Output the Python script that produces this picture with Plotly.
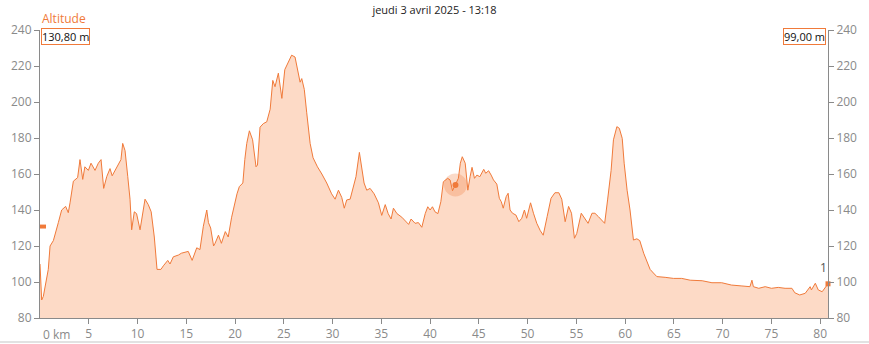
import plotly.graph_objects as go

# ---- data ----
distance_km = [
    0.0, 0.17, 0.34, 0.68, 0.85, 1.03, 1.37, 1.88, 2.22, 2.63, 2.9, 3.08, 3.42, 3.86, 4.1, 4.38, 4.6, 4.96,
    5.23, 5.64, 5.98, 6.26, 6.53, 6.84, 7.18, 7.4, 8.03, 8.3, 8.48, 8.72, 9.0, 9.23, 9.4, 9.67, 9.9, 10.26,
    10.77, 11.1, 11.4, 11.72, 12.0, 12.4, 12.65, 13.1, 13.33, 13.67, 14.2, 14.5, 15.2, 15.6, 16.07, 16.4,
    16.75, 17.1, 17.27, 17.5, 17.8, 17.95, 18.3, 18.6, 19.0, 19.3, 19.65, 20.0, 20.2, 20.44, 20.8, 21.0,
    21.2, 21.47, 21.8, 22.15, 22.3, 22.56, 22.9, 23.25, 23.6, 23.87, 24.1, 24.44, 24.8, 25.1, 25.47, 25.8,
    26.15, 26.4, 26.67, 26.84, 27.1, 27.35, 27.7, 28.0, 28.45, 28.9, 29.4, 29.9, 30.26, 30.6, 30.94, 31.2,
    31.45, 31.8, 32.13, 32.4, 32.75, 33.0, 33.23, 33.5, 33.85, 34.26, 34.7, 35.04, 35.4, 35.7, 36.0, 36.24,
    36.6, 37.1, 37.6, 37.8, 38.05, 38.46, 38.8, 39.15, 39.5, 39.76, 40.0, 40.24, 40.5, 40.8, 41.1, 41.36,
    41.8, 42.05, 42.3, 42.6, 42.9, 43.1, 43.3, 43.6, 43.87, 44.1, 44.3, 44.55, 44.8, 45.1, 45.5, 45.7,
    46.0, 46.26, 46.5, 46.84, 47.1, 47.3, 47.5, 47.8, 48.0, 48.2, 48.45, 48.8, 49.1, 49.4, 49.67, 49.9,
    50.3, 50.6, 50.94, 51.3, 51.6, 52.0, 52.4, 52.8, 53.2, 53.5, 53.85, 54.2, 54.5, 54.8, 55.04, 55.5,
    55.8, 56.2, 56.6, 56.9, 57.26, 57.6, 57.9, 58.2, 58.56, 58.8, 59.15, 59.4, 59.6, 59.7, 59.9, 60.2,
    60.5, 60.85, 61.2, 61.5, 61.9, 62.2, 62.56, 62.9, 63.25, 64.1, 64.95, 65.8, 66.67, 67.9, 68.9, 69.9,
    70.9, 71.97, 72.8, 73.0, 73.15, 73.7, 74.36, 75.0, 75.7, 76.4, 77.1, 77.4, 77.9, 78.46, 78.97, 79.1,
    79.5, 79.8, 80.2, 80.8,
]
altitude_m = [
    110, 90, 92, 103, 107, 120, 123, 133, 140, 142, 138.5, 144, 156, 158, 168, 157, 164, 162,
    166, 162, 166, 168, 152, 158.5, 163, 159, 165, 168, 177, 173, 158.5, 146, 129, 139, 138, 129,
    146, 143, 139, 125, 107, 107, 109, 112, 110, 114, 115, 116, 117, 112, 119, 118,
    131, 140, 133, 130, 120, 121.5, 126, 121.5, 128, 125, 136, 145.6, 149, 153, 155, 168,
    177, 184, 179, 164, 165, 186, 188, 189, 196, 212, 208.5, 216, 202, 218, 222, 226,
    225, 218, 211, 213, 207, 194, 177, 169, 164, 160, 155, 149, 146, 151, 147, 141,
    145.6, 146, 153, 158.5, 172, 164, 155, 151, 152, 149, 144, 137, 143, 138, 135, 141,
    138, 136, 133.5, 132, 135, 132.6, 133, 130.4, 138, 141.8, 140, 141.8, 139, 138, 144.6, 155.7,
    157.6, 156.7, 150.7, 153.9, 157.6, 166, 169.6, 166, 151, 158.5, 163.7, 157.6, 159.4, 158.5, 162.6, 160.4,
    161.8, 159.4, 156.7, 154.4, 146.5, 144.6, 141, 147.4, 149.3, 140, 138.2, 137.2, 133.5, 135.4, 140, 135.4,
    144, 138.2, 132.6, 128.5, 126, 136.3, 146.5, 149.6, 149.6, 146, 133.5, 142, 138.2, 124.3, 127, 138.2,
    136, 132.6, 138.2, 138.2, 136.3, 134.4, 132.6, 145.6, 162, 179, 186.3, 185.4, 180.7, 179.8, 166, 151,
    140, 123.3, 124, 123, 116, 112, 107, 105, 103, 102.6, 102, 102, 101, 100.7, 99.6, 99.6,
    98.3, 97.8, 97.4, 101, 97.4, 96.5, 97.4, 96.5, 97, 96.5, 96.5, 94, 92.8, 93.7, 97.4, 95.6,
    99.3, 95.6, 94.6, 99,
]
x_tick_values = [5, 10, 15, 20, 25, 30, 35, 40, 45, 50, 55, 60, 65, 70, 75, 80]
y_tick_values = [80, 100, 120, 140, 160, 180, 200, 220, 240]
title_text = "jeudi 3 avril 2025 - 13:18"
series_name = "Altitude"
cursor_km = 42.6
cursor_alt = 153.9
left_value = 130.8
left_label = "130,80 m"
right_label = "99,00 m"
end_label = "1"

ORANGE = "#F07A3A"
FILL = "rgba(253,218,198,1)"
GRAY = "#8a8a8a"
FONT = "Open Sans"

fig = go.Figure()
fig.add_trace(go.Scatter(
    x=distance_km, y=altitude_m, mode="lines", fill="tozeroy",
    fillcolor=FILL, line=dict(color=ORANGE, width=1), hoverinfo="skip", showlegend=False,
))
# dummy trace for the right axis
fig.add_trace(go.Scatter(x=[distance_km[0]], y=[altitude_m[0]], yaxis="y2", mode="markers",
                         marker=dict(opacity=0), showlegend=False, hoverinfo="skip"))
# cursor highlight
fig.add_trace(go.Scatter(x=[cursor_km], y=[cursor_alt], mode="markers",
                         marker=dict(size=23, color="rgba(240,122,58,0.28)"), showlegend=False))
fig.add_trace(go.Scatter(x=[cursor_km], y=[cursor_alt], mode="markers",
                         marker=dict(size=6, color=ORANGE), showlegend=False))
# end point marker
fig.add_trace(go.Scatter(x=[distance_km[-1]], y=[altitude_m[-1]], mode="markers",
                         marker=dict(size=5, color=ORANGE, symbol="square"), showlegend=False, cliponaxis=False))

axis_common = dict(
    range=[80, 240], tickvals=y_tick_values, showgrid=False, zeroline=False, automargin=False,
    showline=True, linecolor=GRAY, linewidth=1, ticks="outside", ticklen=5, tickcolor=GRAY,
    tickfont=dict(family=FONT, size=12, color=GRAY), fixedrange=True,
)

fig.update_layout(
    width=869, height=344,
    margin=dict(l=40, r=41, t=30, b=26, autoexpand=False),
    paper_bgcolor="white", plot_bgcolor="white",
    font=dict(family=FONT, size=12, color=GRAY),
    xaxis=dict(range=[0, distance_km[-1]], tickvals=x_tick_values, showgrid=False, zeroline=False,
               automargin=False,
               showline=True, linecolor=GRAY, linewidth=1, ticks="outside", ticklen=5, tickcolor=GRAY,
               tickfont=dict(family=FONT, size=12, color=GRAY)),
    yaxis=dict(side="left", **axis_common),
    yaxis2=dict(side="right", overlaying="y", **axis_common),
    title=dict(text=title_text, x=0.5, xanchor="center", y=1 - 10.5 / 344, yanchor="middle",
               font=dict(family=FONT, size=11, color="#222222")),
    shapes=[
        dict(type="rect", xref="paper", yref="y", x0=0, x1=6 / 788, y0=left_value - 1.1, y1=left_value + 1.1,
             fillcolor=ORANGE, line=dict(width=0)),
        dict(type="line", xref="paper", yref="paper", x0=-40 / 788, x1=1 + 41 / 788,
             y0=-24 / 288, y1=-24 / 288, line=dict(color="#e2e2e2", width=2)),
    ],
    annotations=[
        dict(text=series_name, xref="paper", yref="paper", x=0, y=1, xanchor="left", yanchor="bottom",
             yshift=1, showarrow=False, font=dict(family=FONT, size=12, color=ORANGE)),
        dict(text=left_label, xref="paper", yref="paper", x=0, y=1, xanchor="left", yanchor="top",
             xshift=1, yshift=2, showarrow=False, bgcolor="white", bordercolor=ORANGE, borderwidth=1,
             borderpad=0, font=dict(family=FONT, size=11, color="#111111")),
        dict(text=right_label, xref="paper", yref="paper", x=1, y=1, xanchor="right", yanchor="top",
             xshift=-2, yshift=2, showarrow=False, bgcolor="white", bordercolor=ORANGE, borderwidth=1,
             borderpad=0, font=dict(family=FONT, size=11, color="#111111")),
        dict(text="0 km", xref="paper", yref="paper", x=0, y=0, xanchor="left", yanchor="top",
             xshift=1, yshift=-6, showarrow=False, font=dict(family=FONT, size=12, color=GRAY)),
        dict(text=end_label, xref="x", yref="y", x=80.3, y=108, showarrow=False,
             font=dict(family=FONT, size=12, color="#555555")),
    ],
)

fig.write_html("out.html", config={"displayModeBar": False},
               post_script="document.body.style.margin='0px';document.body.style.overflow='hidden';")
